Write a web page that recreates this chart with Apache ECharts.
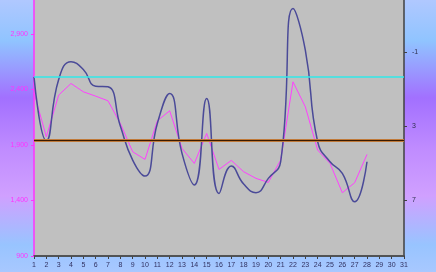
<!DOCTYPE html>
<html><head><meta charset="utf-8">
<script src="https://cdn.jsdelivr.net/npm/echarts@6/dist/echarts.min.js"></script>
<style>html,body{margin:0;padding:0;}#c{width:436px;height:272px;}</style>
</head><body><div id="c"></div>
<script>
var categories = [];
for (var i = 1; i <= 31; i++) categories.push(String(i));
var blueValues = [2514,1938,2490,2650,2580,2430,2424,2070,1764,1620,2094,2364,1824,1539,2319,1464,1710,1548,1470,1599,1749,3129,2754,1929,1749,1644,1389,1749];
var magentaValues = [2370,1974,2349,2454,2379,2340,2298,2094,1839,1770,2118,2208,1869,1734,2004,1680,1761,1659,1599,1563,1764,2469,2244,1854,1734,1470,1560,1815];
var leftTicks = [900,1400,1900,2400,2900];
var rightTicks = [-1,3,7];
var cyanLevel = 2518;
var brownLevel = 1942;
var leftMin = 900;

var chart = echarts.init(document.getElementById('c'), null, {renderer:'canvas'});
var font = 'Liberation Sans, Arial, sans-serif';
chart.setOption({
  animation:false,
  backgroundColor:{type:'linear',x:0,y:0,x2:0,y2:1,colorStops:[
    {offset:0,color:'#b0c8ff'},{offset:0.15,color:'#90c4ff'},{offset:0.36,color:'#a270ff'},
    {offset:0.55,color:'#c08cff'},{offset:0.72,color:'#d0a0ff'},{offset:0.9,color:'#98c4ff'},{offset:1,color:'#a8c8ff'}]},
  grid:{left:34,right:32,top:0,bottom:16,show:true,backgroundColor:'#c0c0c0',borderWidth:0},
  xAxis:{type:'category',data:categories,boundaryGap:false,position:'bottom',
    axisLine:{show:true,onZero:false,lineStyle:{color:'#3a3a3a',width:1.5}},
    axisTick:{show:true,length:3,interval:0,lineStyle:{color:'#404040'}},
    axisLabel:{interval:0,fontSize:7,fontFamily:font,color:'#303060',margin:6},
    splitLine:{show:false}},
  yAxis:[
    {type:'value',min:leftMin,max:3206,position:'left',
     axisLine:{show:true,onZero:false,lineStyle:{color:'#ff33ff',width:1.5}},
     axisTick:{show:true,length:3,customValues:leftTicks,lineStyle:{color:'#ff33ff'}},
     axisLabel:{customValues:leftTicks,fontSize:7,fontFamily:font,color:'#ff33ff',margin:6,
       formatter:function(v){return v.toLocaleString('en-US');}},
     splitLine:{show:false}},
    {type:'value',min:-3.8,max:10,inverse:true,position:'right',
     axisLine:{show:true,onZero:false,lineStyle:{color:'#404040',width:1.5}},
     axisTick:{show:true,length:3,inside:false,customValues:rightTicks,lineStyle:{color:'#404040'}},
     axisLabel:{customValues:rightTicks,fontSize:7,fontFamily:font,color:'#303050',margin:8},
     splitLine:{show:false}}
  ],
  series:[
    {type:'line',data:magentaValues,smooth:false,showSymbol:false,z:3,
     lineStyle:{color:'#ff40ff',width:1},
     markLine:{silent:true,symbol:'none',label:{show:false},animation:false,
       data:[{yAxis:cyanLevel,lineStyle:{color:'#30e8e8',width:1.5,type:'solid'}},
             {yAxis:brownLevel,lineStyle:{color:'#c07a3a',width:3,type:'solid'}},
             {yAxis:brownLevel,lineStyle:{color:'#3a1a00',width:1,type:'solid'}},
             {yAxis:leftMin,lineStyle:{color:'#505050',width:1.5,type:'solid'}}]}},
    {type:'line',data:blueValues,smooth:true,showSymbol:false,z:4,
     lineStyle:{color:'#4a4a98',width:1.5}}
  ]
});
</script></body></html>
